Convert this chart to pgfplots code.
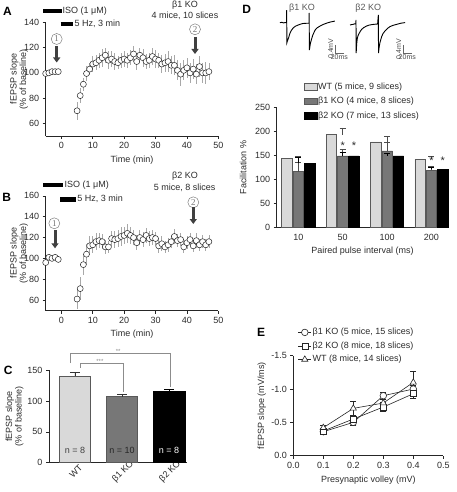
\documentclass[border=0pt]{standalone}
\usepackage{fontspec}
\setmainfont{Liberation Sans}
\newfontfamily\serifnum{Liberation Serif}
\usepackage{pgfplots}
\pgfplotsset{compat=1.18}
\usetikzlibrary{arrows.meta}
\definecolor{txt}{HTML}{2B2B2B}
\definecolor{wtc}{HTML}{D9D9D9}
\definecolor{kob}{HTML}{777777}
\definecolor{errg}{HTML}{A8A8A8}
\definecolor{arr}{HTML}{404040}
\definecolor{brk}{HTML}{8C8C8C}
\newcommand{\fs}{\fontsize{9}{9.5}\selectfont}
\pgfplotsset{
  prism/.style={
    scale only axis, clip=false,
    axis lines*=left,
    axis line style={black!85, line width=0.6pt},
    tick align=outside, major tick length=3pt,
    tick style={black!85, line width=0.6pt},
    tick label style={font=\fs, text=txt},
    label style={font=\fs, text=txt},
    /pgf/number format/assume math mode=true,
  },
  ylab/.style={ylabel style={at={(axis description cs:#1,0.5)}, anchor=center, rotate=0, align=center}},
  tcdot/.style={only marks, mark=*, mark size=3pt,
    mark options={fill=white, draw=black!85, line width=0.5pt},
    error bars/.cd, y dir=both, y explicit, error mark=none,
    error bar style={errg, line width=0.7pt}},
}
\begin{document}
\begin{tikzpicture}
\path[use as bounding box] (0,0) rectangle (456pt,-492pt);
% ---------------- Panel A ----------------
\begin{axis}[prism,
  at={(45.7pt,-136pt)}, anchor=south west,
  width=172.6pt, height=113.6pt,
  xmin=-5, xmax=50, ymin=50, ymax=140,
  xtick={0,10,...,50}, ytick={60,80,...,140},
  xlabel={Time (min)}, ylabel={fEPSP slope\\(\% of baseline)},
  ylab=-0.155,
]
\addplot[tcdot] table[x=t, y=y, y error=e] {
t y e
-5 99.5 1
-4 100 1
-3 101 1.5
-2 101 1
-1 101 1
5 70 7
6 82 6
7 91 5
8 99.5 6
9 103 5
10 107 6
11 108 6
12 110 6
13 112 7
14 114 6
15 110 7
16 111 6
17 109 7
18 108 5
19 110 6
20 111 6
21 110 6
22 112 6
23 115 6
24 109 7
25 114 6
26 112 7
27 109 6
28 110 6
29 113 7
30 111 7
31 110 6
32 107 7
33 108 7
34 109 8
35 106 7
36 106 8
37 102 8
38 99 9
39 102 8
40 104 8
41 100 8
42 103 8
43 99 8
44 105 8
45 100 8
46 100 9
47 101 7
};
\end{axis}
% ---------------- Panel B ----------------
\begin{axis}[prism,
  at={(45.7pt,-310.5pt)}, anchor=south west,
  width=172.6pt, height=114.7pt,
  xmin=-5, xmax=50, ymin=50, ymax=160,
  xtick={0,10,...,50}, ytick={60,80,...,160},
  xlabel={Time (min)}, ylabel={fEPSP slope\\(\% of baseline)},
  ylab=-0.155,
]
\addplot[tcdot] table[x=t, y=y, y error=e] {
t y e
-5 96 2
-4 101 2
-3 100 2
-2 101 2
-1 99 3
5 61 10
6 71 11
7 94 10
8 104 10
9 112 9
10 113 8
11 116 8
12 117 7
13 116 7
14 111 7
15 111 6
16 119 7
17 118 8
18 119 8
19 121 9
20 122 8
21 124 9
22 122 8
23 120 7
24 115 7
25 120 7
26 118 7
27 122 7
28 119 7
29 120 7
30 119 6
31 112 7
32 114 7
33 111 6
34 113 7
35 116 6
36 121 7
37 117 6
38 118 6
39 111 6
40 115 6
41 118 6
42 112 6
43 117 7
44 113 6
45 116 6
46 113 6
47 116 6
};
\end{axis}
% ---------------- Panel C ----------------
\begin{axis}[prism,
  at={(49pt,-462.7pt)}, anchor=south west,
  width=138pt, height=92.7pt,
  xmin=-0.55, xmax=2.38, ymin=0, ymax=150,
  xtick={0,1,2}, xticklabels={WT, β1 KO, β2 KO},
  x tick style={draw=none},
  xticklabel style={xshift=1pt, yshift=-6pt, rotate=45, anchor=center},
  ytick={0,50,100,150},
  ylabel={fEPSP slope\\(\% of baseline)}, ylab=-0.25,
]
\addplot[ybar, bar width=31.4pt, bar shift=0pt, fill=wtc, draw=black!65, line width=0.6pt,
  error bars/.cd, y dir=plus, y explicit, error bar style={black!80, line width=0.7pt},
  error mark options={rotate=90, mark size=5pt, black!80, line width=0.7pt}]
  coordinates {(0,140) +- (0,6)};
\addplot[ybar, bar width=31.4pt, bar shift=0pt, fill=kob, draw=black!65, line width=0.6pt,
  error bars/.cd, y dir=plus, y explicit, error bar style={black!80, line width=0.7pt},
  error mark options={rotate=90, mark size=5pt, black!80, line width=0.7pt}]
  coordinates {(1,107) +- (0,4)};
\addplot[ybar, bar width=31.4pt, bar shift=0pt, fill=black, draw=black, line width=0.6pt,
  error bars/.cd, y dir=plus, y explicit, error bar style={black, line width=0.7pt},
  error mark options={rotate=90, mark size=5pt, black, line width=0.7pt}]
  coordinates {(2,116) +- (0,3)};
\node[font=\fs, text=black!75] at (axis cs:0,20) {n = 8};
\node[font=\fs, text=black!85] at (axis cs:1,20) {n = 10};
\node[font=\fs, text=white] at (axis cs:2,20) {n = 8};
\draw[brk, line width=0.6pt] (axis cs:0.106,154) -- (axis cs:0.106,161.3) -- (axis cs:1.026,161.3) -- (axis cs:1.026,114);
\draw[brk, line width=0.6pt] (axis cs:-0.106,161) -- (axis cs:-0.106,177) -- (axis cs:2.017,177) -- (axis cs:2.017,122);
\node[font=\fontsize{6}{6}\selectfont, text=brk, anchor=base, inner sep=0pt] at (axis cs:0.53,160) {***};
\node[font=\fontsize{6}{6}\selectfont, text=brk, anchor=base, inner sep=0pt] at (axis cs:0.92,176) {**};
\end{axis}
% ---------------- Panel D traces ----------------
\begin{axis}[hide axis, x=0.45pt, y=20pt, xmin=-20, xmax=125, ymin=-1.6, ymax=0.8,
  at={(277.7pt,-54.7pt)}, anchor=south west, clip=false]
\addplot[black, line width=0.9pt] coordinates {
(-15,0.0) (-11,0.02) (-7,-0.01) (-3,0.01) (-0.5,0) (0,0.63) (0.4,-1.0) (1.5,-0.92) (4,-0.77)
(7.3,-0.52) (10,-0.4) (14,-0.27) (19,-0.18) (25,-0.12) (31,-0.07) (36,-0.04) (43,-0.03)
(49.5,-0.03) (50,0.49) (50.4,-1.37) (51.5,-1.2) (53,-1.0) (55.5,-0.8) (58,-0.62) (63,-0.37)
(68,-0.25) (74,-0.17) (81,-0.09) (89,-0.02) (98,0.04) (107,0.08)};
\draw[black!60, line width=0.6pt] (axis cs:107.3,-1.115) -- (axis cs:107.3,-1.515) -- (axis cs:127.3,-1.515);
\node[font=\fontsize{7}{7}\selectfont, text=black!70, rotate=90, anchor=south, inner sep=1pt] at (axis cs:106,-1.3) {0.4mV};
\node[font=\fontsize{7}{7}\selectfont, text=black!70, anchor=north, inner sep=1.5pt] at (axis cs:117,-1.515) {20ms};
\end{axis}
\begin{axis}[hide axis, x=0.45pt, y=20pt, xmin=-20, xmax=125, ymin=-1.6, ymax=0.8,
  at={(347pt,-56pt)}, anchor=south west, clip=false]
\addplot[black, line width=0.9pt] coordinates {
(-13.3,-0.05) (-10,-0.03) (-6.7,-0.02) (-3,0.01) (-0.5,0) (0,0.2) (0.4,-1.45) (1.5,-1.0) (3,-0.7)
(5,-0.55) (7.4,-0.45) (10,-0.35) (12.6,-0.27) (17,-0.18) (23.7,-0.1) (30,-0.05) (38.5,-0.02)
(48,0) (49.6,0.45) (50,-1.45) (51.5,-1.15) (53,-0.95) (57,-0.63) (60,-0.48) (64.4,-0.35)
(70,-0.22) (75.6,-0.13) (82,-0.07) (90,-0.02) (100,0.04) (109,0.07)};
\draw[black!60, line width=0.6pt] (axis cs:104.4,-1.05) -- (axis cs:104.4,-1.45) -- (axis cs:124.4,-1.45);
\node[font=\fontsize{7}{7}\selectfont, text=black!70, rotate=90, anchor=south, inner sep=1pt] at (axis cs:103,-1.25) {0.4mV};
\node[font=\fontsize{7}{7}\selectfont, text=black!70, anchor=north, inner sep=1.5pt] at (axis cs:114,-1.45) {20ms};
\end{axis}
% ---------------- Panel D bars ----------------
\begin{axis}[prism,
  at={(276.7pt,-227.3pt)}, anchor=south west,
  width=171.6pt, height=120pt,
  xmin=-0.486, xmax=3.38, ymin=0, ymax=250,
  xtick={0,1,2,3}, xticklabels={10,50,100,200},
  x tick style={draw=none},
  ytick={0,50,...,250},
  xlabel={Paired pulse interval (ms)}, ylabel={Facilitation \%}, ylab=-0.196,
  legend style={at={(0.159,1.215)}, anchor=north west, draw=none, fill=none,
    inner sep=0pt, row sep=4.5pt, font=\fs, nodes={inner sep=1pt, text=txt},
    /tikz/every even column/.append style={column sep=4pt}},
  legend cell align=left,
  legend image code/.code={\draw[#1] (0pt,-3.3pt) rectangle (12.5pt,3.3pt);},
]
\addplot[ybar, bar width=10.5pt, bar shift=-11.3pt, fill=wtc, draw=black!65, line width=0.5pt,
  error bars/.cd, y dir=plus, y explicit, error bar style={black!70, line width=0.7pt},
  error mark options={rotate=90, mark size=3pt, black!70, line width=0.7pt}]
  coordinates {(0,144) +- (0,4) (1,193) +- (0,14) (2,178) +- (0,11) (3,142) +- (0,5)};
\addlegendentry{WT (5 mice, 9 slices)}
\addplot[ybar, bar width=10.5pt, bar shift=0pt, fill=kob, draw=black!65, line width=0.5pt,
  error bars/.cd, y dir=plus, y explicit, error bar style={black!70, line width=0.7pt},
  error mark options={rotate=90, mark size=3pt, black!70, line width=0.7pt}]
  coordinates {(0,116) +- (0,19) (1,149) +- (0,14) (2,159) +- (0,17) (3,119) +- (0,9)};
\addlegendentry{β1 KO (4 mice, 8 slices)}
\addplot[ybar, bar width=10.5pt, bar shift=11.3pt, fill=black, draw=black, line width=0.5pt,
  error bars/.cd, y dir=plus, y explicit, error bar style={black, line width=0.7pt},
  error mark options={rotate=90, mark size=3pt, black, line width=0.7pt}]
  coordinates {(0,133) +- (0,12) (1,149) +- (0,7) (2,149) +- (0,5) (3,121) +- (0,4)};
\addlegendentry{β2 KO (7 mice, 13 slices)}
\node[font=\fontsize{11}{11}\selectfont, text=txt] at (axis cs:1,171) {*};
\node[font=\fontsize{11}{11}\selectfont, text=txt, xshift=11.3pt] at (axis cs:1,171) {*};
\node[font=\fontsize{11}{11}\selectfont, text=txt] at (axis cs:3,139) {*};
\node[font=\fontsize{11}{11}\selectfont, text=txt, xshift=11.3pt] at (axis cs:3,139) {*};
\end{axis}
% ---------------- Panel E ----------------
\begin{axis}[prism,
  at={(293.3pt,-455.7pt)}, anchor=south west,
  width=150pt, height=100pt,
  xmin=0, xmax=0.5, ymin=-1.5, ymax=0, y dir=reverse,
  xtick={0,0.1,...,0.5}, ytick={0,-0.5,-1,-1.5},
  xticklabel style={/pgf/number format/.cd, fixed, fixed zerofill, precision=1},
  yticklabel style={/pgf/number format/.cd, fixed, fixed zerofill, precision=1},
  xlabel={Presynaptic volley (mV)}, ylabel={fEPSP slope (mV/ms)}, ylab=-0.21,
  legend style={at={(0.03,1.285)}, anchor=north west, draw=none, fill=none,
    inner sep=0pt, row sep=3.5pt, font=\fs, nodes={inner sep=1pt, text=txt},
    /tikz/every even column/.append style={column sep=4pt}},
  legend cell align=left,
  legend image code/.code={\draw[#1, mark repeat=2, mark phase=2] plot coordinates {(0pt,0pt) (6.5pt,0pt) (13pt,0pt)};},
]
\addplot[black!85, line width=0.6pt, mark=*, mark size=3.3pt, mark options={fill=white, solid},
  error bars/.cd, y dir=both, y explicit, error bar style={black!85, line width=0.6pt},
  error mark options={rotate=90, mark size=3pt, black!85, line width=0.6pt}]
  coordinates {(0.1,-0.36) +- (0,0.03) (0.2,-0.50) +- (0,0.04) (0.3,-0.90) +- (0,0.05) (0.4,-1.00) +- (0,0.06)};
\addlegendentry{β1 KO (5 mice, 15 slices)}
\addplot[black!85, line width=0.6pt, mark=square*, mark size=3pt, mark options={fill=white, solid},
  error bars/.cd, y dir=both, y explicit, error bar style={black!85, line width=0.6pt},
  error mark options={rotate=90, mark size=3pt, black!85, line width=0.6pt}]
  coordinates {(0.1,-0.37) +- (0,0.03) (0.2,-0.55) +- (0,0.05) (0.3,-0.73) +- (0,0.07) (0.4,-0.93) +- (0,0.07)};
\addlegendentry{β2 KO (8 mice, 18 slices)}
\addplot[black!85, line width=0.6pt, mark=triangle*, mark size=3.6pt, mark options={fill=white, solid},
  error bars/.cd, y dir=both, y explicit, error bar style={black!85, line width=0.6pt},
  error mark options={rotate=90, mark size=3pt, black!85, line width=0.6pt}]
  coordinates {(0.1,-0.42) +- (0,0.04) (0.2,-0.71) +- (0,0.10) (0.3,-0.79) +- (0,0.12) (0.4,-1.10) +- (0,0.17)};
\addlegendentry{WT (8 mice, 14 slices)}
\end{axis}
% ---------------- annotations ----------------
\tikzset{lab/.style={font=\fontsize{12}{12}\selectfont\bfseries, text=black}}
\node[lab] at (7.5pt,-11pt) {A};
\node[lab] at (6.7pt,-197.5pt) {B};
\node[lab] at (8.3pt,-370pt) {C};
\node[lab] at (246.7pt,-9pt) {D};
\node[lab] at (261pt,-332pt) {E};
% A
\draw[black, line width=4.5pt] (43.3pt,-11pt) -- (61.7pt,-11pt);
\node[font=\fs, text=txt, anchor=west, inner sep=0.5pt] at (62pt,-11pt) {ISO (1 μM)};
\draw[black, line width=4.5pt] (60.7pt,-24pt) -- (73.3pt,-24pt);
\node[font=\fs, text=txt, anchor=west, inner sep=0.5pt] at (74pt,-24pt) {5 Hz, 3 min};
\node[font=\fs, text=txt] at (185pt,-5.5pt) {β1 KO};
\node[font=\fs, text=txt] at (185pt,-16pt) {4 mice, 10 slices};
\node[circle, draw=black!50, line width=0.5pt, inner sep=0pt, minimum size=11pt, text=black!55, font=\serifnum\fontsize{9}{9}\selectfont] at (56.7pt,-39pt) {1};
\draw[arr, line width=3pt, -{Triangle[length=5pt,width=7pt]}] (56.7pt,-46pt) -- (56.7pt,-62.5pt);
\node[circle, draw=black!50, line width=0.5pt, inner sep=0pt, minimum size=11pt, text=black!55, font=\serifnum\fontsize{9}{9}\selectfont] at (195pt,-29.3pt) {2};
\draw[arr, line width=3pt, -{Triangle[length=5pt,width=7pt]}] (195pt,-37pt) -- (195pt,-54pt);
% B
\draw[black, line width=4.5pt] (43.3pt,-185pt) -- (63.3pt,-185pt);
\node[font=\fs, text=txt, anchor=west, inner sep=0.5pt] at (64pt,-185pt) {ISO (1 μM)};
\draw[black, line width=4.5pt] (60pt,-199.3pt) -- (76pt,-199.3pt);
\node[font=\fs, text=txt, anchor=west, inner sep=0.5pt] at (76.7pt,-199.3pt) {5 Hz, 3 min};
\node[font=\fs, text=txt] at (185pt,-176pt) {β2 KO};
\node[font=\fs, text=txt] at (184.7pt,-188.3pt) {5 mice, 8 slices};
\node[circle, draw=black!50, line width=0.5pt, inner sep=0pt, minimum size=11pt, text=black!55, font=\serifnum\fontsize{9}{9}\selectfont] at (54.3pt,-223.3pt) {1};
\draw[arr, line width=3pt, -{Triangle[length=5pt,width=7pt]}] (55pt,-230pt) -- (55pt,-248.3pt);
\node[circle, draw=black!50, line width=0.5pt, inner sep=0pt, minimum size=11pt, text=black!55, font=\serifnum\fontsize{9}{9}\selectfont] at (193.3pt,-202.3pt) {2};
\draw[arr, line width=3pt, -{Triangle[length=5pt,width=7pt]}] (193.3pt,-207pt) -- (193.3pt,-224pt);
% D traces titles
\node[font=\fs, text=black!65] at (302pt,-8pt) {β1 KO};
\node[font=\fs, text=black!65] at (368.3pt,-8pt) {β2 KO};
\end{tikzpicture}
\end{document}
